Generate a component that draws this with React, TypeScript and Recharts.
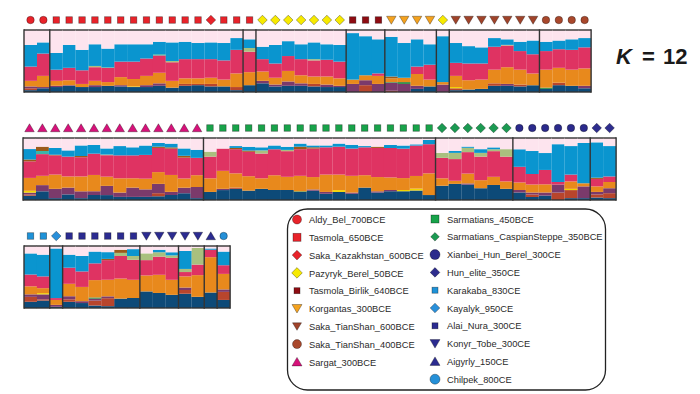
import React from 'react'
import { BarChart, Bar, XAxis, YAxis } from 'recharts'

// ancestry components, bottom of the stack first
const components = ['navy', 'rbrown', 'purple', 'yellow', 'green', 'orange', 'crimson', 'teal', 'olive', 'brown', 'blue', 'pink']

const componentColors: Record<string, string> = {
  navy: '#0d4a78',
  rbrown: '#b8452c',
  purple: '#7b3a6b',
  yellow: '#f2d400',
  green: '#2e8b45',
  orange: '#e8891c',
  crimson: '#df3362',
  teal: '#3bb6a8',
  olive: '#a9c07e',
  brown: '#9c5a1a',
  blue: '#0a95cf',
  pink: '#fde4ee',
}

// each bar: navy, rbrown, purple, yellow, green, orange, crimson, teal, olive, brown, blue, pink
const row1Values = [
  [3, 3, 3, 0, 0, 9, 23, 0, 0, 0, 35, 24],
  [6, 0, 2, 0, 0, 18, 36, 0, 0, 0, 18, 20],
  [8, 0, 2, 0, 0, 8, 18, 0, 0, 0, 27, 37],
  [10, 0, 1, 0, 0, 8, 20, 0, 0, 0, 37, 24],
  [8, 0, 0, 0, 0, 5, 22, 0, 0, 0, 33, 32],
  [8, 0, 3, 0, 0, 7, 22, 0, 2, 0, 35, 23],
  [10, 0, 0, 0, 0, 6, 23, 1, 0, 0, 30, 30],
  [9, 0, 2, 0, 0, 13, 25, 0, 0, 0, 28, 23],
  [8, 0, 0, 1, 0, 12, 28, 0, 0, 0, 28, 23],
  [8, 0, 3, 0, 0, 15, 28, 0, 0, 0, 23, 23],
  [10, 0, 4, 0, 0, 17, 28, 2, 0, 0, 20, 19],
  [7, 0, 0, 0, 0, 11, 30, 0, 2, 0, 30, 20],
  [10, 3, 0, 0, 0, 9, 31, 0, 0, 0, 28, 19],
  [11, 2, 0, 0, 0, 9, 31, 0, 0, 0, 26, 21],
  [9, 4, 0, 0, 0, 10, 30, 0, 0, 0, 27, 20],
  [9, 0, 0, 0, 0, 11, 31, 0, 0, 0, 28, 21],
  [3, 5, 0, 0, 0, 22, 38, 0, 0, 0, 19, 13],
  [11, 0, 0, 0, 0, 21, 33, 0, 6, 0, 14, 15],
  [14, 0, 4, 0, 0, 15, 20, 0, 0, 0, 20, 27],
  [9, 0, 3, 0, 0, 11, 23, 0, 0, 0, 30, 24],
  [10, 0, 7, 0, 0, 17, 24, 0, 0, 0, 24, 18],
  [10, 0, 4, 0, 0, 13, 26, 0, 0, 0, 24, 23],
  [9, 4, 0, 0, 0, 12, 26, 0, 2, 0, 27, 20],
  [8, 0, 4, 0, 0, 13, 27, 0, 0, 0, 25, 23],
  [8, 0, 2, 0, 0, 12, 27, 0, 0, 0, 27, 24],
  [0, 0, 13, 0, 0, 7, 0, 0, 0, 0, 75, 5],
  [0, 11, 8, 0, 0, 8, 0, 0, 0, 0, 63, 10],
  [0, 0, 13, 0, 0, 13, 4, 0, 0, 0, 55, 15],
  [0, 2, 13, 0, 1, 6, 0, 0, 0, 3, 64, 11],
  [0, 0, 13, 0, 3, 7, 0, 0, 0, 0, 56, 21],
  [5, 0, 5, 0, 0, 19, 12, 0, 0, 0, 44, 15],
  [9, 0, 0, 0, 0, 11, 24, 0, 0, 0, 33, 23],
  [0, 0, 12, 0, 0, 4, 0, 0, 0, 0, 74, 10],
  [3, 3, 0, 2, 0, 18, 21, 0, 0, 0, 32, 21],
  [4, 0, 0, 0, 0, 15, 27, 0, 0, 0, 28, 26],
  [5, 0, 0, 0, 0, 15, 26, 0, 0, 0, 26, 28],
  [10, 4, 0, 0, 0, 22, 37, 0, 0, 0, 14, 13],
  [10, 0, 3, 0, 0, 27, 35, 0, 1, 0, 9, 15],
  [9, 3, 0, 0, 0, 24, 30, 0, 0, 0, 15, 19],
  [11, 0, 0, 0, 0, 19, 31, 0, 0, 0, 22, 17],
  [5, 0, 0, 0, 2, 29, 30, 0, 0, 0, 15, 19],
  [11, 4, 0, 0, 0, 24, 30, 0, 0, 0, 14, 17],
  [10, 0, 0, 0, 0, 26, 32, 0, 0, 0, 17, 15],
  [6, 0, 4, 0, 0, 28, 34, 0, 0, 0, 15, 13],
]

const row2Values = [
  [7, 2, 3, 3, 0, 21, 27, 0, 0, 3, 17, 18],
  [14, 0, 10, 0, 0, 15, 35, 5, 0, 7, 0, 14],
  [3, 0, 15, 0, 0, 23, 31, 0, 0, 1, 11, 16],
  [9, 0, 11, 0, 0, 18, 32, 0, 0, 0, 10, 20],
  [3, 0, 11, 0, 0, 24, 31, 0, 0, 2, 17, 12],
  [8, 0, 6, 0, 0, 26, 34, 0, 0, 0, 14, 11],
  [8, 0, 15, 0, 0, 15, 35, 0, 1, 0, 10, 17],
  [5, 0, 7, 0, 0, 23, 37, 0, 0, 0, 15, 13],
  [5, 0, 15, 0, 0, 15, 37, 0, 0, 0, 13, 15],
  [5, 0, 12, 0, 0, 17, 38, 0, 0, 0, 15, 12],
  [6, 5, 15, 0, 0, 19, 39, 0, 0, 2, 6, 8],
  [8, 0, 5, 0, 0, 27, 42, 0, 0, 2, 6, 9],
  [11, 0, 9, 0, 0, 15, 34, 0, 0, 3, 12, 17],
  [3, 0, 18, 0, 0, 19, 28, 0, 0, 0, 13, 19],
  [13, 0, 0, 0, 0, 22, 35, 0, 8, 0, 0, 22],
  [16, 0, 2, 0, 0, 29, 36, 0, 0, 0, 0, 17],
  [18, 2, 0, 0, 0, 23, 39, 0, 0, 2, 3, 13],
  [15, 0, 0, 0, 0, 23, 39, 0, 0, 2, 6, 14],
  [18, 0, 0, 0, 0, 17, 40, 0, 5, 0, 5, 15],
  [16, 0, 0, 0, 0, 24, 42, 0, 0, 0, 6, 12],
  [16, 0, 0, 0, 0, 21, 41, 0, 2, 0, 5, 14],
  [13, 0, 0, 0, 1, 25, 43, 0, 0, 4, 5, 9],
  [15, 0, 2, 0, 0, 20, 46, 0, 0, 2, 3, 12],
  [10, 0, 3, 0, 0, 28, 44, 0, 0, 0, 3, 12],
  [13, 0, 0, 3, 0, 25, 45, 0, 0, 0, 5, 9],
  [10, 0, 2, 0, 0, 27, 44, 0, 0, 0, 6, 11],
  [20, 0, 0, 0, 0, 20, 45, 0, 0, 0, 2, 13],
  [12, 0, 2, 0, 0, 23, 47, 0, 0, 2, 0, 14],
  [14, 0, 2, 0, 0, 20, 47, 0, 0, 0, 5, 11],
  [14, 0, 0, 2, 0, 19, 47, 0, 0, 0, 5, 12],
  [15, 0, 0, 3, 0, 20, 48, 0, 0, 0, 2, 10],
  [8, 0, 0, 0, 0, 35, 47, 0, 0, 0, 7, 3],
  [23, 0, 0, 0, 0, 12, 33, 0, 8, 0, 0, 24],
  [26, 0, 0, 0, 0, 5, 35, 0, 10, 0, 3, 21],
  [25, 0, 2, 0, 0, 16, 35, 0, 7, 0, 2, 14],
  [19, 0, 0, 0, 0, 13, 38, 0, 6, 0, 6, 18],
  [24, 0, 0, 0, 0, 13, 41, 0, 3, 0, 3, 15],
  [18, 0, 0, 0, 0, 12, 40, 0, 12, 0, 0, 18],
  [12, 0, 4, 0, 0, 12, 25, 0, 0, 0, 28, 18],
  [5, 4, 3, 0, 0, 13, 17, 0, 0, 0, 37, 21],
  [7, 0, 5, 0, 0, 13, 23, 0, 0, 0, 27, 24],
  [0, 12, 13, 0, 0, 0, 4, 0, 0, 0, 61, 10],
  [3, 13, 0, 2, 0, 12, 11, 0, 0, 0, 46, 13],
  [3, 0, 19, 0, 0, 5, 0, 0, 0, 0, 65, 8],
  [4, 5, 4, 0, 0, 9, 12, 0, 0, 2, 57, 7],
  [3, 8, 8, 0, 0, 10, 9, 0, 0, 0, 49, 13],
]

const row3Values = [
  [10, 8, 4, 0, 0, 13, 19, 0, 0, 0, 34, 12],
  [12, 2, 8, 2, 0, 8, 19, 0, 0, 0, 35, 14],
  [2, 0, 3, 0, 0, 8, 3, 0, 0, 0, 80, 4],
  [10, 4, 5, 0, 0, 20, 26, 0, 0, 0, 21, 14],
  [8, 0, 3, 0, 0, 23, 25, 0, 0, 0, 25, 16],
  [4, 8, 3, 0, 2, 28, 27, 0, 0, 0, 19, 9],
  [3, 13, 3, 0, 0, 27, 32, 0, 0, 2, 11, 10],
  [15, 0, 0, 0, 0, 32, 36, 0, 5, 5, 0, 6],
  [16, 0, 0, 0, 0, 29, 32, 0, 6, 0, 11, 5],
  [27, 0, 0, 0, 0, 26, 25, 0, 11, 0, 0, 12],
  [24, 0, 0, 0, 0, 29, 29, 0, 7, 0, 4, 6],
  [21, 0, 0, 0, 0, 24, 35, 0, 4, 0, 5, 10],
  [23, 6, 4, 0, 0, 18, 7, 0, 5, 0, 29, 8],
  [18, 0, 0, 0, 0, 35, 17, 0, 27, 0, 0, 3],
  [25, 0, 0, 0, 0, 57, 12, 0, 0, 0, 2, 4],
  [13, 13, 4, 0, 0, 25, 14, 0, 0, 0, 22, 9],
]

// population of each bar (marker above it)
const row1Pops = [
  'aldy', 'aldy',
  'tasmola', 'tasmola', 'tasmola', 'tasmola', 'tasmola', 'tasmola', 'tasmola', 'tasmola', 'tasmola', 'tasmola', 'tasmola', 'tasmola',
  'sakaKaz', 'tasmola', 'tasmola',
  'tasmola',
  'pazyryk', 'pazyryk', 'pazyryk', 'pazyryk', 'pazyryk', 'pazyryk', 'pazyryk',
  'birlik', 'birlik', 'birlik',
  'korgantas', 'korgantas', 'korgantas', 'korgantas',
  'pazyryk',
  'tian600', 'tian600', 'tian600', 'tian600', 'tian600', 'tian600', 'tian600',
  'tian400', 'tian400', 'tian400', 'tian400',
]
const row2Pops = [
  'sargat', 'sargat', 'sargat', 'sargat', 'sargat', 'sargat', 'sargat', 'sargat', 'sargat', 'sargat', 'sargat', 'sargat', 'sargat', 'sargat',
  'sarm', 'sarm', 'sarm', 'sarm', 'sarm', 'sarm', 'sarm', 'sarm', 'sarm', 'sarm', 'sarm', 'sarm', 'sarm', 'sarm', 'sarm', 'sarm', 'sarm', 'sarm',
  'caspian', 'caspian', 'caspian', 'caspian', 'caspian', 'caspian',
  'xianbei', 'xianbei', 'xianbei', 'xianbei', 'xianbei', 'xianbei',
  'hun', 'hun',
]
const row3Pops = [
  'karakaba', 'karakaba', 'kayalyk',
  'alai', 'alai', 'alai', 'alai', 'alai', 'alai',
  'konyr', 'konyr', 'konyr', 'konyr', 'konyr',
  'aigyrly', 'chilpek',
]

// bars per boxed group
const row1Groups = [2, 15, 1, 7, 3, 4, 1, 7, 4]
const row2Groups = [14, 18, 6, 6, 2]
const row3Groups = [2, 1, 6, 3, 2, 1, 1]

const popMarkers: Record<string, { kind: string; fill: string; legendSize: number }> = {
  aldy: { kind: 'circle', fill: '#e8232a', legendSize: 9 },
  tasmola: { kind: 'square', fill: '#e8232a', legendSize: 8 },
  sakaKaz: { kind: 'diamond', fill: '#e8232a', legendSize: 8 },
  pazyryk: { kind: 'diamond', fill: '#f7ea00', legendSize: 9 },
  birlik: { kind: 'square', fill: '#8e0c12', legendSize: 6 },
  korgantas: { kind: 'down', fill: '#f4a21f', legendSize: 9 },
  tian600: { kind: 'down', fill: '#a0432a', legendSize: 8 },
  tian400: { kind: 'circle', fill: '#a9482c', legendSize: 9 },
  sargat: { kind: 'up', fill: '#d6127a', legendSize: 9 },
  sarm: { kind: 'square', fill: '#18a34a', legendSize: 8 },
  caspian: { kind: 'diamond', fill: '#1b9a52', legendSize: 7 },
  xianbei: { kind: 'circle', fill: '#2b2a8c', legendSize: 10 },
  hun: { kind: 'diamond', fill: '#2e2d8e', legendSize: 8 },
  karakaba: { kind: 'square', fill: '#1e92d8', legendSize: 6 },
  kayalyk: { kind: 'diamond', fill: '#2a90da', legendSize: 8 },
  alai: { kind: 'square', fill: '#2b2b90', legendSize: 6 },
  konyr: { kind: 'down', fill: '#2b2b90', legendSize: 9 },
  aigyrly: { kind: 'up', fill: '#2b2b90', legendSize: 9 },
  chilpek: { kind: 'circle', fill: '#2590d8', legendSize: 10 },
}

const legendLeft = [
  ['Aldy_Bel_700BCE', 'aldy'],
  ['Tasmola_650BCE', 'tasmola'],
  ['Saka_Kazakhstan_600BCE', 'sakaKaz'],
  ['Pazyryk_Berel_50BCE', 'pazyryk'],
  ['Tasmola_Birlik_640BCE', 'birlik'],
  ['Korgantas_300BCE', 'korgantas'],
  ['Saka_TianShan_600BCE', 'tian600'],
  ['Saka_TianShan_400BCE', 'tian400'],
  ['Sargat_300BCE', 'sargat'],
]
const legendRight = [
  ['Sarmatians_450BCE', 'sarm'],
  ['Sarmatians_CaspianSteppe_350BCE', 'caspian'],
  ['Xianbei_Hun_Berel_300CE', 'xianbei'],
  ['Hun_elite_350CE', 'hun'],
  ['Karakaba_830CE', 'karakaba'],
  ['Kayalyk_950CE', 'kayalyk'],
  ['Alai_Nura_300CE', 'alai'],
  ['Konyr_Tobe_300CE', 'konyr'],
  ['Aigyrly_150CE', 'aigyrly'],
  ['Chilpek_800CE', 'chilpek'],
]

const PLOT_H = 62
const TOP = 18
const BORDER = '#333333'

function Marker({ kind, cx, cy, size, fill }: { kind: string; cx: number; cy: number; size: number; fill: string }) {
  const h = size / 2
  const common = { fill, stroke: 'rgba(0,0,0,0.45)', strokeWidth: 0.7 }
  if (kind === 'circle') return <circle cx={cx} cy={cy} r={h} {...common} />
  if (kind === 'square') return <rect x={cx - h} y={cy - h} width={size} height={size} {...common} />
  if (kind === 'diamond')
    return <polygon points={`${cx},${cy - h - 0.8} ${cx + h + 0.8},${cy} ${cx},${cy + h + 0.8} ${cx - h - 0.8},${cy}`} {...common} />
  if (kind === 'down')
    return <polygon points={`${cx - h - 0.5},${cy - h + 0.5} ${cx + h + 0.5},${cy - h + 0.5} ${cx},${cy + h}`} {...common} />
  return <polygon points={`${cx - h - 0.5},${cy + h - 0.5} ${cx + h + 0.5},${cy + h - 0.5} ${cx},${cy - h}`} {...common} />
}

const chartSizes: Record<string, number> = { circle: 7.5, square: 6.5, diamond: 8, down: 8.5, up: 8.5 }

function AdmixRow({ values, pops, groups, left, top, width }: {
  values: number[][]; pops: string[]; groups: number[]; left: number; top: number; width: number
}) {
  const data = values.map((v, i) => {
    const o: Record<string, number | string> = { id: String(i) }
    components.forEach((c, k) => (o[c] = v[k]))
    return o
  })
  const starts = new Set<number>()
  let acc = 0
  groups.forEach((g) => {
    starts.add(acc)
    acc += g
  })
  const n = values.length

  const topShape = (props: any) => {
    const { x, y, width: w, height: h, index, fill } = props
    const pop = popMarkers[pops[index]]
    const bottom = y + PLOT_H
    return (
      <g>
        <rect x={x} y={y} width={w} height={Math.max(h, 0)} fill={fill} />
        <line x1={x} x2={x + w} y1={y} y2={y} stroke={BORDER} strokeWidth={1.4} />
        <line x1={x} x2={x + w} y1={bottom} y2={bottom} stroke={BORDER} strokeWidth={1.4} />
        {starts.has(index) && <line x1={x} x2={x} y1={y - 0.7} y2={bottom + 0.7} stroke={BORDER} strokeWidth={1.4} />}
        {index === n - 1 && <line x1={x + w} x2={x + w} y1={y - 0.7} y2={bottom + 0.7} stroke={BORDER} strokeWidth={1.4} />}
        {pop && <Marker kind={pop.kind} cx={x + w / 2} cy={y - 10} size={chartSizes[pop.kind]} fill={pop.fill} />}
      </g>
    )
  }

  return (
    <div style={{ position: 'absolute', left, top }}>
      <BarChart
        width={width}
        height={PLOT_H + TOP + 2}
        data={data}
        stackOffset="expand"
        barCategoryGap={0}
        barGap={0}
        margin={{ top: TOP, right: 1, bottom: 2, left: 1 }}
      >
        <XAxis dataKey="id" hide />
        <YAxis hide domain={[0, 1]} />
        {components.map((c) =>
          c === 'pink' ? (
            <Bar key={c} dataKey={c} stackId="a" fill={componentColors[c]} isAnimationActive={false} shape={topShape} />
          ) : (
            <Bar key={c} dataKey={c} stackId="a" fill={componentColors[c]} isAnimationActive={false} />
          )
        )}
      </BarChart>
    </div>
  )
}

function LegendBox() {
  const rowY = (i: number) => 219.5 + i * 17.8
  const font = { fontFamily: '"Liberation Sans", Arial, sans-serif', fontSize: 9.3, fill: '#2a2a2a' }
  return (
    <svg width={700} height={394} style={{ position: 'absolute', left: 0, top: 0, pointerEvents: 'none' }}>
      <rect x={287.5} y={209} width={318} height={181} rx={20} ry={20} fill="none" stroke="#222" strokeWidth={1.3} />
      {legendLeft.map(([label, key], i) => {
        const m = popMarkers[key]
        return (
          <g key={label}>
            <Marker kind={m.kind} cx={297} cy={rowY(i)} size={m.legendSize} fill={m.fill} />
            <text x={309} y={rowY(i) + 3.6} {...font}>{label}</text>
          </g>
        )
      })}
      {legendRight.map(([label, key], i) => {
        const m = popMarkers[key]
        return (
          <g key={label}>
            <Marker kind={m.kind} cx={435} cy={rowY(i) - 0.5} size={m.legendSize} fill={m.fill} />
            <text x={447} y={rowY(i) + 3.1} {...font}>{label}</text>
          </g>
        )
      })}
      <text y={64} fontFamily='"Liberation Sans", Arial, sans-serif' fontSize={22} fontWeight="bold" fill="#1a1a1a">
        <tspan x={616} fontStyle="italic">K</tspan>
        <tspan x={642}>=</tspan>
        <tspan x={663}>12</tspan>
      </text>
    </svg>
  )
}

export default function App() {
  return (
    <div style={{ position: 'absolute', left: 0, top: 0, width: 700, height: 394, background: '#fff' }}>
      <AdmixRow values={row1Values} pops={row1Pops} groups={row1Groups} left={23} top={30 - TOP} width={569} />
      <AdmixRow values={row2Values} pops={row2Pops} groups={row2Groups} left={22} top={138 - TOP} width={595} />
      <AdmixRow values={row3Values} pops={row3Pops} groups={row3Groups} left={23} top={246 - TOP} width={208} />
      <LegendBox />
    </div>
  )
}
